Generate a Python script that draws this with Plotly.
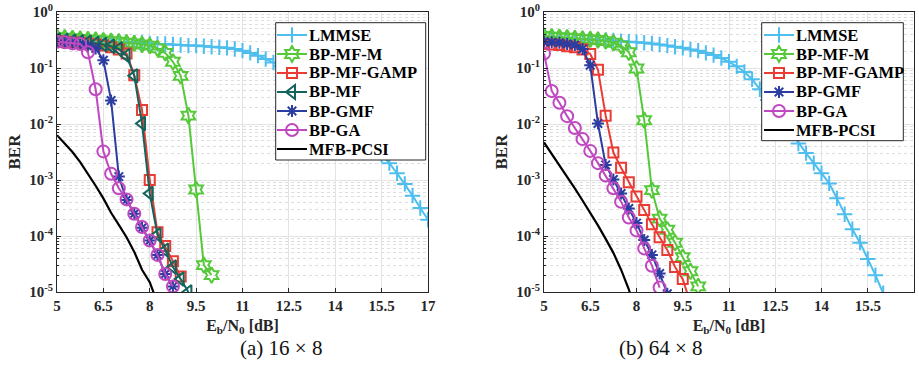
import plotly.graph_objects as go

EBN0 = [5.0, 5.25, 5.5, 5.75, 6.0, 6.25, 6.5, 6.75, 7.0, 7.25, 7.5, 7.75, 8.0, 8.25, 8.5, 8.75,
        9.0, 9.25, 9.5, 9.75, 10.0, 10.25, 10.5, 10.75, 11.0, 11.25, 11.5, 11.75, 12.0, 12.25,
        12.5, 12.75, 13.0, 13.25, 13.5, 13.75, 14.0, 14.25, 14.5, 14.75, 15.0, 15.25, 15.5,
        15.75, 16.0, 16.25, 16.5, 16.75, 17.0]

# ---------- (a) 16 x 8 ----------
A_LMMSE = [0.316, 0.316, 0.309, 0.309, 0.302, 0.302, 0.295, 0.295, 0.288, 0.288, 0.282, 0.282,
           0.275, 0.269, 0.269, 0.263, 0.257, 0.251, 0.251, 0.245, 0.240, 0.234, 0.229, 0.219,
           0.204, 0.186, 0.166, 0.145, 0.126, 0.107, 0.0912, 0.0759, 0.0617, 0.0490, 0.0380,
           0.0288, 0.0214, 0.0155, 0.0112, 0.00794, 0.00562, 0.00398, 0.00282, 0.00200,
           0.00132, 0.000851, 0.000525, 0.000316, 0.000195]
A_BPMFM = [0.355, 0.347, 0.339, 0.331, 0.324, 0.316, 0.309, 0.302, 0.295, 0.282, 0.275, 0.263,
           0.251, 0.224, 0.186, 0.129, 0.0724, 0.0141, 0.000676, 3.02e-5, 2.0e-5]
A_GAMP = [0.302, 0.295, 0.288, 0.282, 0.275, 0.263, 0.251, 0.234, 0.214, 0.182, 0.0741, 0.0178,
          0.001, 1.17e-4, 6.6e-5, 3.55e-5, 1.9e-5]
A_BPMF = [0.316, 0.309, 0.302, 0.295, 0.288, 0.275, 0.263, 0.245, 0.219, 0.166, 0.0724, 0.0102,
          5.75e-4, 1.05e-4, 5.6e-5, 2.8e-5, 1.7e-5, 1.0e-5]
A_GMF = [0.302, 0.295, 0.282, 0.269, 0.251, 0.224, 0.138, 0.0263, 0.00115, 4.4e-4, 2.5e-4,
         1.4e-4, 8.3e-5, 4.6e-5, 2.1e-5, 1.26e-5]
A_GA = [0.295, 0.288, 0.275, 0.269, 0.191, 0.0417, 0.00324, 0.00129, 7.1e-4, 4.5e-4, 2.5e-4,
        1.45e-4, 8.3e-5, 4.6e-5, 2.1e-5, 1.26e-5]
A_PCSI = [0.0063, 0.00447, 0.00316, 0.00209, 0.00132, 7.9e-4, 4.7e-4, 2.6e-4, 1.58e-4, 9.5e-5,
          5.2e-5, 2.5e-5, 1.5e-5, 6.3e-6]

# ---------- (b) 64 x 8 ----------
B_LMMSE = [0.347, 0.347, 0.339, 0.339, 0.331, 0.331, 0.324, 0.316, 0.316, 0.309, 0.302, 0.295,
           0.288, 0.282, 0.275, 0.263, 0.251, 0.240, 0.229, 0.214, 0.204, 0.186, 0.170, 0.151,
           0.129, 0.107, 0.0851, 0.0631, 0.0417, 0.0269, 0.0174, 0.0112, 0.00708, 0.00447,
           0.00302, 0.00200, 0.00132, 8.7e-4, 4.7e-4, 2.45e-4, 1.32e-4, 7.6e-5, 3.9e-5,
           2.0e-5, 9.5e-6]
B_BPMFM = [0.372, 0.363, 0.355, 0.347, 0.339, 0.331, 0.324, 0.316, 0.302, 0.282, 0.251, 0.191,
           0.0977, 0.0117, 6.6e-4, 2.04e-4, 1.29e-4, 7.6e-5, 4.2e-5, 2.35e-5, 1.26e-5]
B_GAMP = [0.269, 0.263, 0.257, 0.245, 0.234, 0.214, 0.178, 0.0933, 0.0141, 0.00309, 0.00166,
          9.1e-4, 5.1e-4, 2.9e-4, 1.62e-4, 9.5e-5, 5.6e-5, 2.8e-5, 1.7e-5, 6.3e-6]
B_GMF = [0.295, 0.288, 0.282, 0.269, 0.257, 0.219, 0.112, 0.0102, 0.00186, 0.00102, 5.75e-4,
         3.1e-4, 1.7e-4, 8.5e-5, 4.6e-5, 2.14e-5, 9.3e-6]
B_GA = [0.182, 0.0389, 0.024, 0.0138, 0.0085, 0.00537, 0.00331, 0.002, 0.0012, 7.1e-4, 4.1e-4,
        2.14e-4, 1.26e-4, 6.0e-5, 2.95e-5, 1.2e-5]
B_PCSI = [0.00468, 0.00295, 0.00186, 0.00117, 7.1e-4, 4.3e-4, 2.6e-4, 1.55e-4, 8.9e-5, 5.0e-5,
          2.5e-5, 1.12e-5, 4e-6]

X_TICKS_A = [5, 6.5, 8, 9.5, 11, 12.5, 14, 15.5, 17]
X_TICKS_B = [5, 6.5, 8, 9.5, 11, 12.5, 14, 15.5]
Y_TICKS = [1e-5, 1e-4, 1e-3, 1e-2, 1e-1, 1]
Y_TICKTEXT = ["<b>10<sup>-5</sup></b>", "<b>10<sup>-4</sup></b>", "<b>10<sup>-3</sup></b>",
              "<b>10<sup>-2</sup></b>", "<b>10<sup>-1</sup></b>", "<b>10<sup>0</sup></b>"]

STYLES = {
    "LMMSE": dict(color="#4DBEEE", symbol="cross-thin-open", size=11),
    "BP-MF-M": dict(color="#56C93A", symbol="hexagram-open", size=12),
    "BP-MF-GAMP": dict(color="#EA3B34", symbol="square-open", size=10),
    "BP-MF": dict(color="#12645C", symbol="triangle-left-open", size=12),
    "BP-GMF": dict(color="#2B3DA0", symbol="asterisk-open", size=10),
    "BP-GA": dict(color="#C048C0", symbol="circle-open", size=12),
    "MFB-PCSI": dict(color="#000000", symbol=None, size=0),
}

SERIES_A = [("LMMSE", A_LMMSE), ("BP-MF-M", A_BPMFM), ("BP-MF-GAMP", A_GAMP),
            ("BP-MF", A_BPMF), ("BP-GMF", A_GMF), ("BP-GA", A_GA), ("MFB-PCSI", A_PCSI)]
SERIES_B = [("LMMSE", B_LMMSE), ("BP-MF-M", B_BPMFM), ("BP-MF-GAMP", B_GAMP),
            ("BP-GMF", B_GMF), ("BP-GA", B_GA), ("MFB-PCSI", B_PCSI)]

fig = go.Figure()


def style_kw(name):
    st = STYLES[name]
    if st["symbol"] is None:
        return dict(mode="lines", line=dict(color=st["color"], width=2.2))
    return dict(mode="lines+markers", line=dict(color=st["color"], width=2),
                marker=dict(symbol=st["symbol"], size=st["size"], color=st["color"],
                            line=dict(color=st["color"], width=2)))


def add(name, y, xa, ya, legend):
    # data trace
    fig.add_trace(go.Scatter(x=EBN0[:len(y)], y=y, name=name, showlegend=False,
                             xaxis=xa, yaxis=ya, **style_kw(name)))
    # legend-key-only trace (symbol sample; the label is drawn as an annotation)
    fig.add_trace(go.Scatter(x=[None], y=[None], name=" ", showlegend=True,
                             xaxis=xa, yaxis=ya, legend=legend, hoverinfo="skip",
                             **style_kw(name)))


for nm, yy in SERIES_A:
    add(nm, yy, "x", "y", "legend")
for nm, yy in SERIES_B:
    add(nm, yy, "x2", "y2", "legend2")

W, H = 919, 385
FONT = "Liberation Serif"
AXC = "#262626"
tickfont = dict(family=FONT, size=15, color=AXC)
minor_y = [m * 10 ** e for e in range(-5, 0) for m in range(2, 10)]

common_x = dict(range=[5, 17], showline=True, linecolor=AXC, linewidth=1, mirror=True,
                ticks="inside", ticklen=4, tickcolor=AXC, showgrid=True, automargin=False,
                gridcolor="#E3E3E3", gridwidth=1, zeroline=False, tickfont=tickfont,
                title=dict(text="<b>E<sub>b</sub>/N<sub>0</sub> [dB]</b>",
                           font=dict(family=FONT, size=16, color=AXC), standoff=6))
common_y = dict(type="log", range=[-5, 0], showline=True, linecolor=AXC, linewidth=1,
                mirror=True, ticks="inside", ticklen=4, tickcolor=AXC, showgrid=True,
                automargin=False,
                gridcolor="#E3E3E3", gridwidth=1, zeroline=False, tickfont=tickfont,
                tickmode="array", tickvals=Y_TICKS, ticktext=Y_TICKTEXT,
                minor=dict(tickmode="array", tickvals=minor_y, ticks="inside", ticklen=2,
                           tickcolor=AXC, showgrid=True, gridcolor="#DDDDDD",
                           griddash="dot", gridwidth=1),
                title=dict(text="<b>BER</b>", font=dict(family=FONT, size=17, color=AXC),
                           standoff=4))

# legend geometry (pixels). Native legend rows are 19 px high for small fonts.
ROW = 19.0
ROW0 = 35.0
LEGENDS = [
    dict(key="legend", series=SERIES_A, box=(275.7, 22.7, 425.7, 160.0), sym_x=272, text_x=307),
    dict(key="legend2", series=SERIES_B, box=(761.7, 22.7, 903.3, 140.7), sym_x=759, text_x=794),
]

shapes, annotations = [], []
layout_legends = {}
for L in LEGENDS:
    x0, y0, x1, y1 = L["box"]
    shapes.append(dict(type="rect", xref="paper", yref="paper", layer="above",
                       x0=x0 / W, x1=x1 / W, y0=1 - y1 / H, y1=1 - y0 / H,
                       fillcolor="white", line=dict(color=AXC, width=1)))
    for i, (nm, _) in enumerate(L["series"]):
        yc = ROW0 + i * ROW
        annotations.append(dict(text=f"<b>{nm}</b>", x=L["text_x"] / W, y=1 - yc / H,
                                xref="paper", yref="paper", xanchor="left", yanchor="middle",
                                showarrow=False,
                                font=dict(family=FONT, size=16.5, color="#000000")))
    top = ROW0 - (ROW / 2 + 5)
    layout_legends[L["key"]] = dict(
        x=L["sym_x"] / W, y=1 - top / H, xanchor="left", yanchor="top",
        bgcolor="rgba(0,0,0,0)", borderwidth=0,
        font=dict(family=FONT, size=2, color="rgba(0,0,0,0)"),
        tracegroupgap=0, itemwidth=30)

annotations += [
    dict(text="(a) 16 × 8", x=238 / W, y=1 - 362 / H, xref="paper", yref="paper",
         showarrow=False, font=dict(family=FONT, size=21, color="#111111")),
    dict(text="(b) 64 × 8", x=705 / W, y=1 - 362 / H, xref="paper", yref="paper",
         showarrow=False, font=dict(family=FONT, size=21, color="#111111")),
]

y_dom = [1 - 292 / H, 1 - 12 / H]
fig.update_layout(
    width=W, height=H, margin=dict(l=0, r=0, t=0, b=0, autoexpand=False),
    paper_bgcolor="white", plot_bgcolor="white",
    xaxis=dict(common_x, domain=[57 / W, 428 / W], anchor="y",
               tickmode="array", tickvals=X_TICKS_A,
               ticktext=[f"<b>{v:g}</b>" for v in X_TICKS_A]),
    yaxis=dict(common_y, domain=y_dom, anchor="x"),
    xaxis2=dict(common_x, domain=[544 / W, 914 / W], anchor="y2",
                tickmode="array", tickvals=X_TICKS_B,
                ticktext=[f"<b>{v:g}</b>" for v in X_TICKS_B]),
    yaxis2=dict(common_y, domain=y_dom, anchor="x2"),
    shapes=shapes,
    annotations=annotations,
    **layout_legends,
)

fig.write_html("out.html", config={"displayModeBar": False},
               post_script="document.body.style.margin='0px';"
                           "document.body.style.overflow='hidden';")
